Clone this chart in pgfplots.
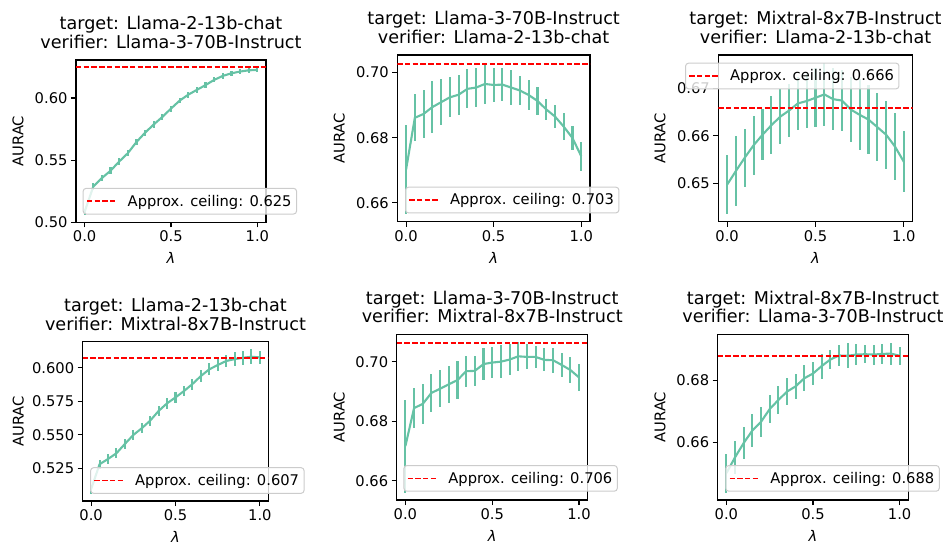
\documentclass[border=0pt]{standalone}
\usepackage{fontspec}
\setmainfont{DejaVu Sans}
\usepackage{pgfplots}
\pgfplotsset{compat=1.18}

\definecolor{setgreen}{RGB}{102,194,165}
\definecolor{ceilred}{RGB}{255,0,0}
\definecolor{legedge}{RGB}{204,204,204}
\newcommand\tickfont{\fontsize{14.7}{17}\selectfont}
\newcommand\titlefont{\fontsize{17.6}{18.6}\selectfont}

\pgfplotsset{
  panel/.style={
    scale only axis, anchor=south west,
    xmin=-0.05, xmax=1.05, xtick={0,0.5,1},
    xticklabel style={/pgf/number format/fixed, /pgf/number format/fixed zerofill, /pgf/number format/precision=1},
    tick align=outside, xtick pos=bottom, ytick pos=left,
    major tick length=5pt,
    every tick/.style={black, line width=1.1pt},
    axis line style={line width=1.1pt},
    tick label style={font=\tickfont},
    /pgf/number format/assume math mode=true,
    every axis title/.style={at={(0.5,1)}, anchor=south, yshift=11pt, inner sep=0pt, align=center, font=\titlefont},
    xlabel={\itshape λ}, ylabel={AURAC},
    label style={font=\tickfont},
    xlabel style={at={(axis description cs:0.5,0)}, yshift=-36pt, anchor=center},
    legend style={draw=legedge, fill=white, fill opacity=0.8, text opacity=1, draw opacity=1,
      rounded corners=3pt, font=\tickfont, line width=1pt, inner xsep=3pt, inner ysep=4.5pt},
    legend cell align=left,
    legend image code/.code={
      \draw[ceilred, line width=1.6pt, dash pattern=on 5.4pt off 2.3pt] (0pt,0pt) -- (30pt,0pt);
      \path (0pt,0pt) (38pt,0pt);},
  },
  ylab/.style={ylabel style={at={([xshift=-#1]axis description cs:0,0.5)}, anchor=center}},
  curve/.style={setgreen, line width=2.1pt, mark=none, forget plot,
    error bars/y dir=both, error bars/y explicit,
    error bars/error mark=none,
    error bars/error bar style={line width=2.1pt, setgreen}},
  ceiling/.style={ceilred, line width=1.5pt, dash pattern=on 5.4pt off 2.3pt},
}

\begin{document}
\begin{tikzpicture}

% row 1, left
\begin{axis}[panel, at={(76pt,318.7pt)}, width=190pt, height=162.3pt,
  ymin=0.50, ymax=0.6306, ytick={0.50,0.55,0.60},
  yticklabel style={/pgf/number format/fixed, /pgf/number format/fixed zerofill, /pgf/number format/precision=2},
  title={target: Llama-2-13b-chat\\verifier: Llama-3-70B-Instruct},
  ylab=58pt,
  legend style={at={(axis description cs:0.035,0.048)}, anchor=south west}]
\addplot[curve] coordinates {
  (0,0.5085) +- (0,0.0026) (0.05,0.5287) +- (0,0.0026) (0.1,0.5356) +- (0,0.0026)
  (0.15,0.5415) +- (0,0.0026) (0.2,0.5489) +- (0,0.0026) (0.25,0.5556) +- (0,0.0026)
  (0.3,0.5646) +- (0,0.0026) (0.35,0.5721) +- (0,0.0025) (0.4,0.5787) +- (0,0.0025)
  (0.45,0.5848) +- (0,0.0025) (0.5,0.5915) +- (0,0.0024) (0.55,0.5979) +- (0,0.0023)
  (0.6,0.6027) +- (0,0.0023) (0.65,0.6066) +- (0,0.0022) (0.7,0.6104) +- (0,0.0022)
  (0.75,0.6146) +- (0,0.0021) (0.8,0.6178) +- (0,0.0021) (0.85,0.6199) +- (0,0.0020)
  (0.9,0.6213) +- (0,0.0020) (0.95,0.6223) +- (0,0.0020) (1.0,0.6226) +- (0,0.0020)
};
\addplot[ceiling] coordinates {(-0.05,0.6248) (1.05,0.6248)};
\addlegendentry{Approx. ceiling: 0.625}
\end{axis}

% row 1, middle
\begin{axis}[panel, at={(397.3pt,319.3pt)}, width=192.7pt, height=166.7pt,
  ymin=0.6542, ymax=0.7054, ytick={0.66,0.68,0.70},
  yticklabel style={/pgf/number format/fixed, /pgf/number format/fixed zerofill, /pgf/number format/precision=2},
  title={target: Llama-3-70B-Instruct\\verifier: Llama-2-13b-chat},
  ylab=58pt,
  legend style={at={(axis description cs:0.04,0.05)}, anchor=south west}]
\addplot[curve] coordinates {
  (0,0.6702) +- (0,0.0137) (0.05,0.6861) +- (0,0.0072) (0.1,0.6873) +- (0,0.0075)
  (0.15,0.6894) +- (0,0.0081) (0.2,0.6909) +- (0,0.0070) (0.25,0.6924) +- (0,0.0061)
  (0.3,0.6932) +- (0,0.0061) (0.35,0.6950) +- (0,0.0060) (0.4,0.6954) +- (0,0.0059)
  (0.45,0.6965) +- (0,0.0061) (0.5,0.6962) +- (0,0.0051) (0.55,0.6963) +- (0,0.0050)
  (0.6,0.6954) +- (0,0.0054) (0.65,0.6945) +- (0,0.0045) (0.7,0.6931) +- (0,0.0046)
  (0.75,0.6913) +- (0,0.0042) (0.8,0.6887) +- (0,0.0032) (0.85,0.6865) +- (0,0.0036)
  (0.9,0.6834) +- (0,0.0041) (0.95,0.6799) +- (0,0.0037) (1.0,0.6743) +- (0,0.0045)
};
\addplot[ceiling] coordinates {(-0.05,0.7026) (1.05,0.7026)};
\addlegendentry{Approx. ceiling: 0.703}
\end{axis}

% row 1, right
\begin{axis}[panel, at={(718.3pt,319.3pt)}, width=194.4pt, height=166.7pt,
  ymin=0.6419, ymax=0.677, ytick={0.65,0.66,0.67},
  yticklabel style={/pgf/number format/fixed, /pgf/number format/fixed zerofill, /pgf/number format/precision=2},
  title={target: Mixtral-8x7B-Instruct\\verifier: Llama-2-13b-chat},
  ylab=58.3pt,
  legend style={at={(axis description cs:-0.171,0.954)}, anchor=north west}]
\addplot[curve] coordinates {
  (0,0.6497) +- (0,0.0062) (0.05,0.6526) +- (0,0.0073) (0.1,0.6554) +- (0,0.0061)
  (0.15,0.6580) +- (0,0.0062) (0.2,0.6602) +- (0,0.0054) (0.25,0.6622) +- (0,0.0061)
  (0.3,0.6640) +- (0,0.0058) (0.35,0.6653) +- (0,0.0055) (0.4,0.6668) +- (0,0.0055)
  (0.45,0.6673) +- (0,0.0057) (0.5,0.6680) +- (0,0.0062) (0.55,0.6687) +- (0,0.0067)
  (0.6,0.6677) +- (0,0.0065) (0.65,0.6674) +- (0,0.0064) (0.7,0.6655) +- (0,0.0068)
  (0.75,0.6644) +- (0,0.0075) (0.8,0.6634) +- (0,0.0073) (0.85,0.6618) +- (0,0.0071)
  (0.9,0.6602) +- (0,0.0072) (0.95,0.6577) +- (0,0.0070) (1.0,0.6545) +- (0,0.0064)
};
\addplot[ceiling] coordinates {(-0.05,0.6658) (1.05,0.6658)};
\addlegendentry{Approx. ceiling: 0.666}
\end{axis}

% row 2, left
\begin{axis}[panel, at={(82.7pt,40pt)}, width=185.6pt, height=159.3pt,
  ymin=0.5007, ymax=0.6194, ytick={0.525,0.55,0.575,0.6},
  yticklabel style={/pgf/number format/fixed, /pgf/number format/fixed zerofill, /pgf/number format/precision=3},
  title={target: Llama-2-13b-chat\\verifier: Mixtral-8x7B-Instruct},
  ylab=64.4pt,
  legend style={at={(axis description cs:0.04,0.045)}, anchor=south west}]
\addplot[curve] coordinates {
  (0,0.5095) +- (0,0.0034) (0.05,0.5281) +- (0,0.0035) (0.1,0.5320) +- (0,0.0035)
  (0.15,0.5363) +- (0,0.0036) (0.2,0.5432) +- (0,0.0036) (0.25,0.5499) +- (0,0.0037)
  (0.3,0.5549) +- (0,0.0037) (0.35,0.5606) +- (0,0.0038) (0.4,0.5678) +- (0,0.0038)
  (0.45,0.5735) +- (0,0.0039) (0.5,0.5779) +- (0,0.0039) (0.55,0.5826) +- (0,0.0040)
  (0.6,0.5878) +- (0,0.0041) (0.65,0.5938) +- (0,0.0042) (0.7,0.5988) +- (0,0.0044)
  (0.75,0.6020) +- (0,0.0046) (0.8,0.6050) +- (0,0.0048) (0.85,0.6064) +- (0,0.0050)
  (0.9,0.6074) +- (0,0.0052) (0.95,0.6082) +- (0,0.0055) (1.0,0.6077) +- (0,0.0050)
};
\addplot[ceiling] coordinates {(-0.05,0.6072) (1.05,0.6072)};
\addlegendentry{Approx. ceiling: 0.607}
\end{axis}

% row 2, middle
\begin{axis}[panel, at={(396.7pt,41pt)}, width=191pt, height=165.7pt,
  ymin=0.6535, ymax=0.7092, ytick={0.66,0.68,0.70},
  yticklabel style={/pgf/number format/fixed, /pgf/number format/fixed zerofill, /pgf/number format/precision=2},
  title={target: Llama-3-70B-Instruct\\verifier: Mixtral-8x7B-Instruct},
  ylab=57.4pt,
  legend style={at={(axis description cs:0.035,0.05)}, anchor=south west}]
\addplot[curve] coordinates {
  (0,0.6716) +- (0,0.0156) (0.05,0.6844) +- (0,0.0068) (0.1,0.6858) +- (0,0.0067)
  (0.15,0.6895) +- (0,0.0063) (0.2,0.6909) +- (0,0.0063) (0.25,0.6924) +- (0,0.0062)
  (0.3,0.6938) +- (0,0.0064) (0.35,0.6968) +- (0,0.0052) (0.4,0.6969) +- (0,0.0051)
  (0.45,0.6992) +- (0,0.0053) (0.5,0.6997) +- (0,0.0053) (0.55,0.7000) +- (0,0.0056)
  (0.6,0.7007) +- (0,0.0052) (0.65,0.7018) +- (0,0.0049) (0.7,0.7016) +- (0,0.0042)
  (0.75,0.7016) +- (0,0.0038) (0.8,0.7006) +- (0,0.0039) (0.85,0.7005) +- (0,0.0042)
  (0.9,0.6989) +- (0,0.0039) (0.95,0.6972) +- (0,0.0043) (1.0,0.6947) +- (0,0.0045)
};
\addplot[ceiling] coordinates {(-0.05,0.7063) (1.05,0.7063)};
\addlegendentry{Approx. ceiling: 0.706}
\end{axis}

% row 2, right
\begin{axis}[panel, at={(717.7pt,41pt)}, width=190.6pt, height=165.7pt,
  ymin=0.6415, ymax=0.6947, ytick={0.66,0.68},
  yticklabel style={/pgf/number format/fixed, /pgf/number format/fixed zerofill, /pgf/number format/precision=2},
  title={target: Mixtral-8x7B-Instruct\\verifier: Llama-3-70B-Instruct},
  ylab=57.7pt,
  legend style={at={(axis description cs:0.04,0.05)}, anchor=south west}]
\addplot[curve] coordinates {
  (0,0.6501) +- (0,0.0062) (0.05,0.6552) +- (0,0.0052) (0.1,0.6598) +- (0,0.0052)
  (0.15,0.6638) +- (0,0.0052) (0.2,0.6666) +- (0,0.0048) (0.25,0.6707) +- (0,0.0044)
  (0.3,0.6736) +- (0,0.0045) (0.35,0.6763) +- (0,0.0043) (0.4,0.6780) +- (0,0.0041)
  (0.45,0.6806) +- (0,0.0042) (0.5,0.6821) +- (0,0.0037) (0.55,0.6845) +- (0,0.0040)
  (0.6,0.6866) +- (0,0.0032) (0.65,0.6879) +- (0,0.0033) (0.7,0.6878) +- (0,0.0040)
  (0.75,0.6882) +- (0,0.0034) (0.8,0.6883) +- (0,0.0029) (0.85,0.6882) +- (0,0.0032)
  (0.9,0.6884) +- (0,0.0031) (0.95,0.6885) +- (0,0.0035) (1.0,0.6878) +- (0,0.0029)
};
\addplot[ceiling] coordinates {(-0.05,0.6877) (1.05,0.6877)};
\addlegendentry{Approx. ceiling: 0.688}
\end{axis}

\pgfresetboundingbox
\path[use as bounding box] (0pt,0pt) rectangle (947pt,541pt);
\end{tikzpicture}
\end{document}
